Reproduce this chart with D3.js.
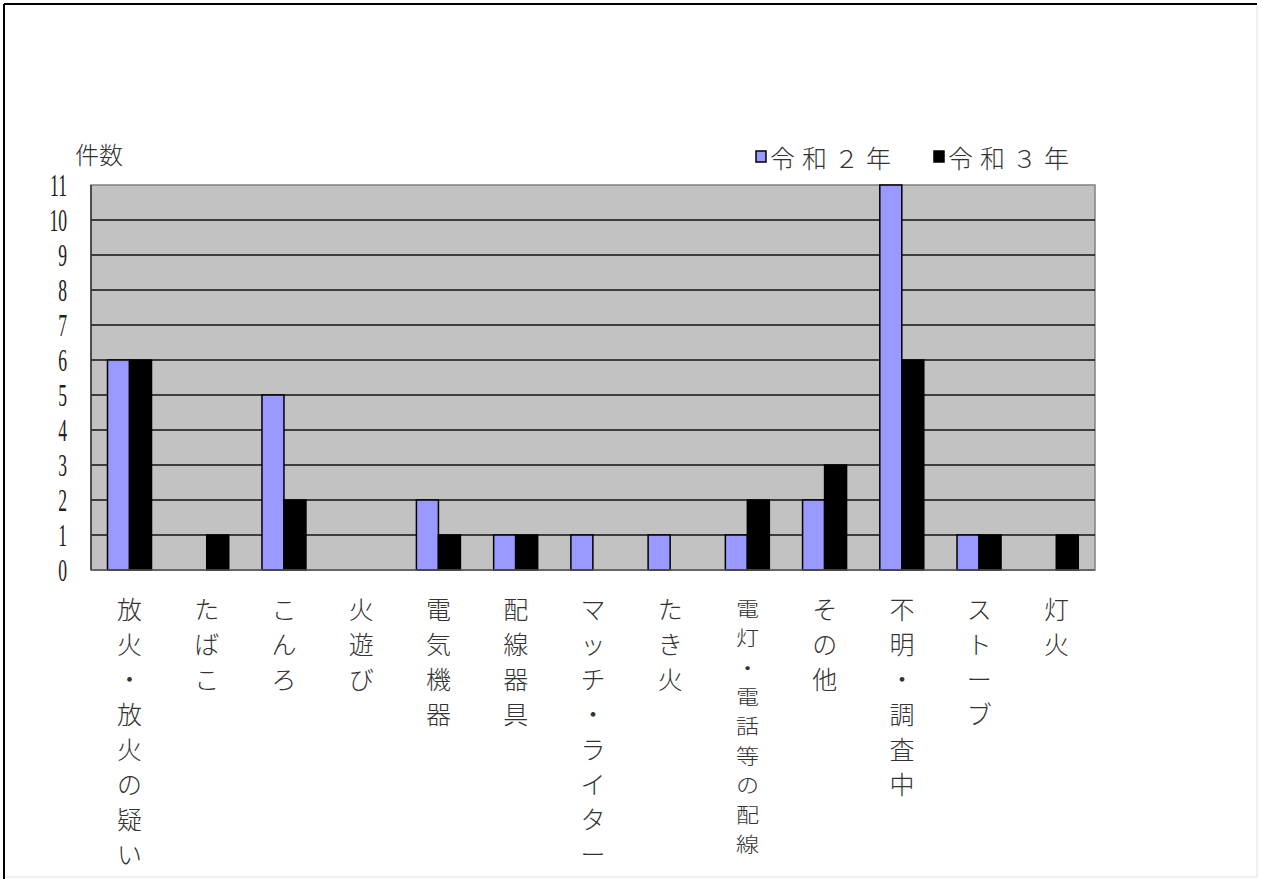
<!DOCTYPE html>
<html><head><meta charset="utf-8">
<script src="https://cdn.jsdelivr.net/npm/d3@7"></script>
<style>
html,body{margin:0;padding:0;background:#fff;}
svg{display:block;}
</style></head>
<body>
<svg id="chart" width="1263" height="879"></svg>
<script>
const categories = ["放火・放火の疑い","たばこ","こんろ","火遊び","電気機器","配線器具","マッチ・ライター","たき火","電灯・電話等の配線","その他","不明・調査中","ストーブ","灯火"];
const seriesNames = ["令和２年","令和３年"];
const r2Values = [6,0,5,0,2,1,1,1,1,2,11,1,0];
const r3Values = [6,1,2,0,1,1,0,0,2,3,6,1,1];
const yTicks = [0,1,2,3,4,5,6,7,8,9,10,11];
const yTitle = "件数";
const colors = ["#9999ff","#000000"];

(function(){
const svg = d3.select("#chart");
const pL = 91, pR = 1095, pT = 185, pB = 570;

// outer frame
svg.append("rect").attr("x",4).attr("y",4).attr("width",1253).attr("height",873)
  .attr("fill","#fff").attr("stroke","#e0e0e0").attr("stroke-width",1);
svg.append("line").attr("x1",4).attr("x2",1257).attr("y1",4).attr("y2",4).attr("stroke","#000").attr("stroke-width",2);
svg.append("line").attr("x1",4).attr("x2",4).attr("y1",4).attr("y2",879).attr("stroke","#000").attr("stroke-width",2);

const x0 = d3.scaleBand().domain(categories).range([pL,pR]).paddingInner(0).paddingOuter(0);
const x1 = d3.scaleBand().domain(seriesNames).range([16.5, 60.5]).padding(0);
const y = d3.scaleLinear().domain([0,11]).range([pB, pT]);

// plot background
svg.append("rect").attr("x",pL).attr("y",pT).attr("width",pR-pL).attr("height",pB-pT)
  .attr("fill","#c2c2c2").attr("stroke","#808080").attr("stroke-width",1.5);

// gridlines
svg.append("g").selectAll("line").data(yTicks.filter(d=>d>0 && d<11)).join("line")
  .attr("x1",pL).attr("x2",pR).attr("y1",d=>y(d)).attr("y2",d=>y(d))
  .attr("stroke","#111").attr("stroke-width",1.5);

// bars
const data = categories.map((c,i)=>({cat:c, vals:[r2Values[i], r3Values[i]]}));
const g = svg.append("g");
data.forEach(d=>{
  seriesNames.forEach((s,j)=>{
    const v = d.vals[j];
    if (v<=0) return;
    g.append("rect")
      .attr("x", x0(d.cat)+x1(s))
      .attr("y", y(v))
      .attr("width", x1.bandwidth())
      .attr("height", y(0)-y(v))
      .attr("fill", colors[j])
      .attr("stroke","#000").attr("stroke-width",1.5);
  });
});

// axis lines
svg.append("line").attr("x1",pL).attr("x2",pL).attr("y1",pT).attr("y2",pB).attr("stroke","#333").attr("stroke-width",1.5);
svg.append("line").attr("x1",pL).attr("x2",pR).attr("y1",pB).attr("y2",pB).attr("stroke","#555").attr("stroke-width",1.5);

// y tick labels (narrow serif)
svg.append("g").selectAll("text").data(yTicks).join("text")
  .attr("transform", d=>`translate(67,${y(d)}) scale(0.55,1)`)
  .attr("text-anchor","end").attr("dominant-baseline","central")
  .attr("font-family","'Liberation Serif','DejaVu Serif',serif")
  .attr("font-size",32).attr("fill","#222")
  .text(d=>d);

// y title
svg.append("text").attr("x",75).attr("y",164).attr("font-family","'Noto Sans CJK JP',sans-serif")
  .attr("font-weight",300).attr("font-size",24).attr("fill","#333").text(yTitle);

// x labels (vertical, one char per line)
const xl = svg.append("g");
categories.forEach(c=>{
  const cx = x0(c) + x0.bandwidth()/2;
  const chars = Array.from(c);
  const long = chars.length > 8;
  const pitch = long ? 235/(chars.length-1) : 35;
  const sx = long ? 1.1 : 1, sy = long ? 0.95 : 1;
  const fs = long ? 21 : 25;
  const gg = xl.append("g").attr("transform",`translate(${cx},${long ? 617 : 619}) scale(${sx},${sy})`);
  const t = gg.append("text")
    .attr("text-anchor","middle")
    .attr("font-family","'Noto Sans CJK JP',sans-serif").attr("font-weight",300)
    .attr("font-size",fs).attr("fill","#333");
  chars.forEach((ch,k)=>{
    t.append("tspan").attr("x",0).attr("y",k*pitch/sy).text(ch);
  });
});

// legend
const legendX = [756, 934];
seriesNames.forEach((s,j)=>{
  svg.append("rect").attr("x",legendX[j]).attr("y",151).attr("width",10).attr("height",11)
    .attr("fill",colors[j]).attr("stroke","#000").attr("stroke-width",1.5);
  svg.append("text").attr("x",legendX[j]+14).attr("y",157)
    .attr("dominant-baseline","central")
    .attr("font-family","'Noto Sans CJK JP',sans-serif").attr("font-weight",300)
    .attr("font-size",25).attr("letter-spacing",7).attr("fill","#333").text(s);
});
})();
</script>
</body></html>
